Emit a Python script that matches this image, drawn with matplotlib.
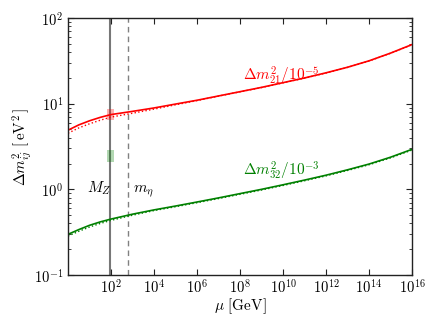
import numpy as np
import matplotlib
matplotlib.use('Agg')
import matplotlib.pyplot as plt
from matplotlib.ticker import FuncFormatter, LogLocator, NullFormatter

plt.rcParams['mathtext.fontset'] = 'cm'
plt.rcParams['font.family'] = 'DejaVu Serif'

# 繰り込みスケール [GeV]
mu = [1e0, 10**0.5, 1e1, 10**1.5, 1e2, 1e3, 1e4, 1e5, 1e6, 1e7, 1e8,
      1e9, 1e10, 1e11, 1e12, 1e13, 1e14, 1e15, 1e16]

# Δm21^2 / 1e-5 (実線: 全計算, 点線: 近似)
dm21 = [4.90, 5.65, 6.31, 6.92, 7.46, 8.13, 8.91, 9.89, 10.96, 12.30, 13.80,
        15.49, 17.58, 19.95, 22.91, 26.61, 31.62, 38.90, 48.98]
dm21_approx = [4.52, 5.21, 5.82, 6.41, 6.97, 7.73, 8.63, 9.70, 10.86, 12.25, 13.74,
               15.42, 17.50, 19.86, 22.80, 26.49, 31.48, 38.73, 48.75]

# Δm32^2 / 1e-3
dm32 = [0.2985, 0.3388, 0.3802, 0.4169, 0.4498, 0.5129, 0.5754, 0.6383, 0.7112,
        0.7943, 0.8913, 1.000, 1.130, 1.282, 1.462, 1.690, 1.972, 2.371, 2.931]
dm32_approx = [0.2851, 0.3236, 0.3631, 0.3999, 0.4345, 0.4989, 0.5649, 0.6266,
               0.6982, 0.7798, 0.8750, 0.9817, 1.109, 1.259, 1.435, 1.660, 1.936,
               2.328, 2.877]

# 実験値の範囲 (M_Z 付近)
exp_mu = [63, 140]
exp21 = [6.38, 8.74]
exp32 = [2.08, 2.85]

M_Z = 91.19
m_eta = 600

fig = plt.figure(figsize=(4.36, 3.27), dpi=100)
ax = fig.add_axes([0.156, 0.159, 0.789, 0.786])

ax.axvline(M_Z, color='#777777', lw=1.5, zorder=1)
ax.axvline(m_eta, color='#808080', lw=1.0, ls='--', dashes=(4, 3), zorder=1)

ax.fill_between(exp_mu, exp21[0], exp21[1], color='red', alpha=0.3, lw=0)
ax.fill_between(exp_mu, exp32[0], exp32[1], color='green', alpha=0.3, lw=0)

ax.plot(mu, dm21, color='red', lw=1.2)
ax.plot(mu, dm21_approx, color='red', lw=1.0, ls=':')
ax.plot(mu, dm32, color='green', lw=1.2)
ax.plot(mu, dm32_approx, color='green', lw=1.0, ls=':')

ax.set_xscale('log')
ax.set_yscale('log')
ax.set_xlim(1, 1e16)
ax.set_ylim(0.1, 100)

ax.set_xticks([10.0**k for k in range(2, 17, 2)])
ax.xaxis.set_minor_locator(plt.NullLocator())
ax.yaxis.set_minor_locator(LogLocator(base=10, subs=np.arange(2, 10)))
ax.yaxis.set_minor_formatter(NullFormatter())
fmt = FuncFormatter(lambda v, p: r'$10^{%d}$' % round(np.log10(v)))
ax.xaxis.set_major_formatter(fmt)
ax.yaxis.set_major_formatter(fmt)

ax.tick_params(which='both', direction='in', top=True, right=True,
               labelsize=10.5, colors='#222222', labelcolor='black')
ax.tick_params(which='major', length=4, width=0.8)
ax.tick_params(which='minor', length=2, width=0.6)
ax.tick_params(axis='x', pad=2)
for s in ax.spines.values():
    s.set_linewidth(1.0)
    s.set_color('#222222')

ax.text(1.4e8, 18.7, r'$\Delta m_{21}^2/10^{-5}$', color='red', fontsize=11, va='baseline')
ax.text(1.4e8, 1.46, r'$\Delta m_{32}^2/10^{-3}$', color='green', fontsize=11, va='baseline')
ax.text(7.6, 0.92, r'$M_Z$', fontsize=11, va='baseline')
ax.text(1050, 0.92, r'$m_\eta$', fontsize=11, va='baseline')

ax.set_xlabel(r'$\mu\ [\mathrm{GeV}]$', fontsize=11)
ax.set_ylabel(r'$\Delta m_{ij}^2\ [\,\mathrm{eV}^2\,]$', fontsize=11)
ax.xaxis.set_label_coords(0.5, -0.085)
ax.yaxis.set_label_coords(-0.10, 0.5)

fig.savefig('out.png', dpi=100)
